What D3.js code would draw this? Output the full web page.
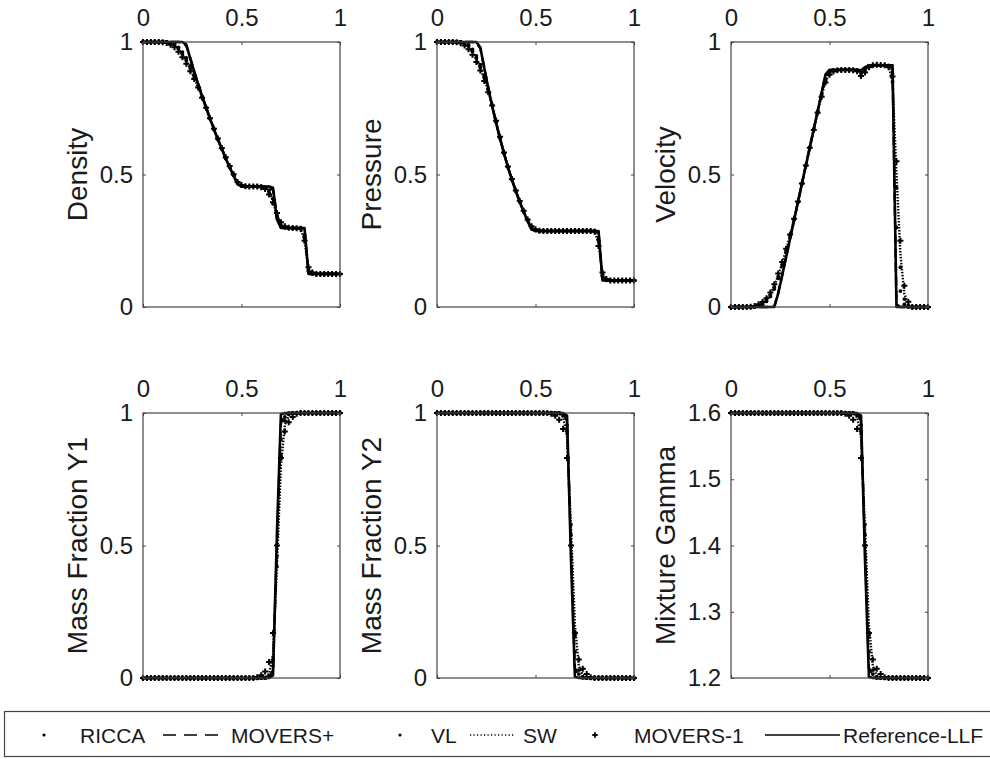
<!DOCTYPE html>
<html>
<head>
<meta charset="utf-8">
<script src="https://cdn.jsdelivr.net/npm/d3@7"></script>
<style>
  html, body { margin: 0; padding: 0; background: #fff; }
  svg { display: block; }
  text { font-family: "Liberation Sans", Arial, Helvetica, sans-serif; fill: #1a1a1a; }
</style>
</head>
<body>
<svg id="chart" width="990" height="759"></svg>
<script>
// ---------------- DATA ----------------
const xGrid = [0,0.02,0.04,0.06,0.08,0.10,0.12,0.14,0.16,0.18,
  0.20,0.22,0.24,0.26,0.28,0.30,0.32,0.34,0.36,0.38,
  0.40,0.42,0.44,0.46,0.48,0.50,0.52,0.54,0.56,0.58,
  0.60,0.62,0.64,0.66,0.68,0.70,0.72,0.74,0.76,0.78,
  0.80,0.82,0.84,0.86,0.88,0.90,0.92,0.94,0.96,0.98,
  1.00];

const seriesNames = ["RICCA", "MOVERS+", "VL", "SW", "MOVERS-1", "Reference-LLF"];
const panelTitles = ["Density", "Pressure", "Velocity", "Mass Fraction Y1", "Mass Fraction Y2", "Mixture Gamma"];
const xTicks = [0, 0.5, 1];
const xTickLabels = ["0", "0.5", "1"];
const yTicksUnit = [0, 0.5, 1];
const yTickLabelsUnit = ["0", "0.5", "1"];
const yTicksGamma = [1.2, 1.3, 1.4, 1.5, 1.6];
const yTickLabelsGamma = ["1.2", "1.3", "1.4", "1.5", "1.6"];

// Density
const density_RICCA = [1,1,1,1,1,1,1,0.997,0.99,0.975,
  0.955,0.93,0.9,0.868,0.832,0.793,0.752,0.711,0.671,0.633,
  0.596,0.56,0.527,0.497,0.47,0.458,0.455,0.455,0.455,0.455,
  0.455,0.45,0.43,0.39,0.34,0.31,0.3,0.298,0.298,0.298,
  0.298,0.26,0.14,0.126,0.125,0.125,0.125,0.125,0.125,0.125,
  0.125];
const density_MOVERSP = [1,1,1,1,1,1,1,1,1,1,
  0.998,0.985,0.94,0.889,0.842,0.797,0.754,0.712,0.672,0.634,
  0.597,0.561,0.528,0.496,0.466,0.456,0.455,0.455,0.455,0.455,
  0.455,0.455,0.455,0.44,0.35,0.302,0.298,0.298,0.298,0.298,
  0.297,0.292,0.13,0.125,0.125,0.125,0.125,0.125,0.125,0.125,
  0.125];
const density_VL = [1,1,1,1,1,1,1,0.998,0.993,0.98,
  0.962,0.94,0.91,0.875,0.836,0.795,0.753,0.712,0.672,0.634,
  0.597,0.561,0.528,0.497,0.468,0.457,0.455,0.455,0.455,0.455,
  0.455,0.452,0.44,0.41,0.345,0.305,0.299,0.298,0.298,0.298,
  0.298,0.27,0.135,0.125,0.125,0.125,0.125,0.125,0.125,0.125,
  0.125];
const density_SW = [1,1,1,1,1,1,0.999,0.995,0.987,0.972,
  0.952,0.927,0.898,0.866,0.83,0.792,0.752,0.711,0.671,0.633,
  0.596,0.561,0.528,0.498,0.47,0.459,0.456,0.455,0.455,0.455,
  0.454,0.448,0.435,0.4,0.34,0.31,0.3,0.298,0.298,0.298,
  0.297,0.25,0.145,0.128,0.125,0.125,0.125,0.125,0.125,0.125,
  0.125];
const density_MOVERS1 = [1,1,1,1,1,0.999,0.996,0.99,0.98,0.963,
  0.942,0.918,0.89,0.86,0.828,0.79,0.752,0.712,0.673,0.636,
  0.6,0.565,0.532,0.501,0.472,0.46,0.456,0.455,0.455,0.455,
  0.452,0.445,0.425,0.395,0.355,0.32,0.305,0.299,0.298,0.297,
  0.295,0.25,0.15,0.13,0.125,0.125,0.125,0.125,0.125,0.125,
  0.125];
const density_REF = [1,1,1,1,1,1,1,1,1,1,
  1,0.99,0.937,0.888,0.841,0.796,0.753,0.711,0.671,0.633,
  0.596,0.56,0.527,0.495,0.463,0.455,0.455,0.455,0.455,0.455,
  0.455,0.455,0.455,0.45,0.33,0.298,0.298,0.298,0.298,0.298,
  0.298,0.298,0.125,0.125,0.125,0.125,0.125,0.125,0.125,0.125,
  0.125];

// Pressure
const pressure_RICCA = [1,1,1,1,1,1,1,0.996,0.985,0.965,
  0.94,0.905,0.865,0.82,0.762,0.7,0.638,0.581,0.529,0.482,
  0.438,0.397,0.36,0.328,0.3,0.29,0.287,0.287,0.287,0.287,
  0.287,0.287,0.287,0.287,0.287,0.287,0.287,0.287,0.287,0.287,
  0.287,0.25,0.12,0.102,0.1,0.1,0.1,0.1,0.1,0.1,
  0.1];
const pressure_MOVERSP = [1,1,1,1,1,1,1,1,1,1,
  0.997,0.975,0.905,0.829,0.759,0.695,0.636,0.58,0.528,0.481,
  0.437,0.397,0.36,0.326,0.297,0.288,0.287,0.287,0.287,0.287,
  0.287,0.287,0.287,0.287,0.287,0.287,0.287,0.287,0.287,0.287,
  0.286,0.28,0.105,0.1,0.1,0.1,0.1,0.1,0.1,0.1,
  0.1];
const pressure_VL = [1,1,1,1,1,1,1,0.997,0.989,0.972,
  0.948,0.915,0.873,0.823,0.762,0.698,0.637,0.58,0.528,0.482,
  0.438,0.397,0.36,0.327,0.298,0.289,0.287,0.287,0.287,0.287,
  0.287,0.287,0.287,0.287,0.287,0.287,0.287,0.287,0.287,0.287,
  0.287,0.26,0.115,0.101,0.1,0.1,0.1,0.1,0.1,0.1,
  0.1];
const pressure_SW = [1,1,1,1,1,1,0.999,0.994,0.982,0.962,
  0.935,0.9,0.86,0.815,0.76,0.7,0.638,0.581,0.529,0.482,
  0.438,0.398,0.361,0.328,0.301,0.29,0.288,0.287,0.287,0.287,
  0.287,0.287,0.287,0.287,0.287,0.287,0.287,0.287,0.287,0.287,
  0.286,0.24,0.125,0.105,0.1,0.1,0.1,0.1,0.1,0.1,
  0.1];
const pressure_MOVERS1 = [1,1,1,1,1,0.999,0.995,0.987,0.973,0.952,
  0.925,0.892,0.853,0.81,0.76,0.703,0.642,0.583,0.53,0.483,
  0.44,0.4,0.363,0.33,0.305,0.293,0.288,0.287,0.287,0.287,
  0.287,0.287,0.287,0.287,0.287,0.287,0.287,0.287,0.287,0.287,
  0.285,0.23,0.13,0.106,0.1,0.1,0.1,0.1,0.1,0.1,
  0.1];
const pressure_REF = [1,1,1,1,1,1,1,1,1,1,
  1,0.979,0.901,0.827,0.758,0.694,0.635,0.58,0.528,0.481,
  0.437,0.396,0.359,0.324,0.292,0.287,0.287,0.287,0.287,0.287,
  0.287,0.287,0.287,0.287,0.287,0.287,0.287,0.287,0.287,0.287,
  0.287,0.287,0.1,0.1,0.1,0.1,0.1,0.1,0.1,0.1,
  0.1];

// Velocity
const velocity_RICCA = [0,0,0,0,0,0,0.002,0.006,0.012,0.025,
  0.045,0.075,0.115,0.16,0.212,0.268,0.33,0.396,0.465,0.534,
  0.602,0.67,0.737,0.8,0.855,0.883,0.893,0.895,0.895,0.895,
  0.895,0.895,0.893,0.88,0.89,0.91,0.912,0.912,0.912,0.912,
  0.91,0.85,0.45,0.15,0.03,0.005,0,0,0,0,
  0];
const velocity_MOVERSP = [0,0,0,0,0,0,0,0,0,0,
  0,0.003,0.055,0.121,0.19,0.259,0.328,0.397,0.466,0.535,
  0.603,0.671,0.739,0.806,0.87,0.892,0.895,0.895,0.895,0.895,
  0.895,0.895,0.894,0.89,0.9,0.91,0.912,0.912,0.912,0.912,
  0.911,0.9,0.01,0,0,0,0,0,0,0,
  0];
const velocity_VL = [0,0,0,0,0,0,0.001,0.004,0.01,0.021,
  0.04,0.068,0.108,0.155,0.208,0.265,0.329,0.396,0.465,0.534,
  0.602,0.67,0.738,0.803,0.86,0.886,0.894,0.895,0.895,0.895,
  0.895,0.895,0.894,0.888,0.898,0.911,0.912,0.912,0.912,0.912,
  0.912,0.88,0.3,0.06,0.01,0,0,0,0,0,
  0];
const velocity_SW = [0,0,0,0,0,0,0.002,0.007,0.015,0.03,
  0.05,0.08,0.12,0.165,0.215,0.27,0.331,0.397,0.466,0.535,
  0.602,0.67,0.736,0.798,0.852,0.88,0.892,0.895,0.895,0.895,
  0.895,0.895,0.893,0.885,0.895,0.91,0.912,0.912,0.912,0.912,
  0.91,0.85,0.5,0.2,0.05,0.01,0,0,0,0,
  0];
const velocity_MOVERS1 = [0,0,0,0,0,0.001,0.004,0.01,0.019,0.033,
  0.055,0.086,0.126,0.17,0.22,0.274,0.333,0.398,0.466,0.534,
  0.601,0.668,0.733,0.793,0.847,0.876,0.889,0.893,0.894,0.894,
  0.894,0.893,0.89,0.872,0.885,0.905,0.912,0.914,0.913,0.912,
  0.905,0.87,0.55,0.25,0.08,0.02,0,0,0,0,
  0];
const velocity_REF = [0,0,0,0,0,0,0,0,0,0,
  0,0,0.052,0.12,0.189,0.258,0.327,0.396,0.465,0.534,
  0.602,0.671,0.74,0.809,0.878,0.895,0.895,0.895,0.895,0.895,
  0.895,0.895,0.895,0.893,0.905,0.912,0.912,0.912,0.912,0.912,
  0.912,0.912,0,0,0,0,0,0,0,0,
  0];

// Mass fraction Y1
const y1_RICCA = [0,0,0,0,0,0,0,0,0,0,
  0,0,0,0,0,0,0,0,0,0,
  0,0,0,0,0,0,0,0,0,0,
  0,0,0.01,0.07,0.42,0.84,0.97,0.995,1,1,
  1,1,1,1,1,1,1,1,1,1,
  1];
const y1_MOVERSP = [0,0,0,0,0,0,0,0,0,0,
  0,0,0,0,0,0,0,0,0,0,
  0,0,0,0,0,0,0,0,0,0,
  0,0,0.002,0.03,0.5,0.96,0.998,1,1,1,
  1,1,1,1,1,1,1,1,1,1,
  1];
const y1_VL = [0,0,0,0,0,0,0,0,0,0,
  0,0,0,0,0,0,0,0,0,0,
  0,0,0,0,0,0,0,0,0,0,
  0,0,0.005,0.045,0.46,0.9,0.985,0.999,1,1,
  1,1,1,1,1,1,1,1,1,1,
  1];
const y1_SW = [0,0,0,0,0,0,0,0,0,0,
  0,0,0,0,0,0,0,0,0,0,
  0,0,0,0,0,0,0,0,0,0,
  0,0.002,0.015,0.09,0.43,0.8,0.955,0.99,0.998,1,
  1,1,1,1,1,1,1,1,1,1,
  1];
const y1_MOVERS1 = [0,0,0,0,0,0,0,0,0,0,
  0,0,0,0,0,0,0,0,0,0,
  0,0,0,0,0,0,0,0,0,0.003,
  0.01,0.025,0.06,0.17,0.5,0.83,0.93,0.965,0.985,0.997,
  1,1,1,1,1,1,1,1,1,1,
  1];
const y1_REF = [0,0,0,0,0,0,0,0,0,0,
  0,0,0,0,0,0,0,0,0,0,
  0,0,0,0,0,0,0,0,0,0,
  0,0,0,0.01,0.55,0.995,1,1,1,1,
  1,1,1,1,1,1,1,1,1,1,
  1];

// Mass fraction Y2
const y2_RICCA = [1,1,1,1,1,1,1,1,1,1,
  1,1,1,1,1,1,1,1,1,1,
  1,1,1,1,1,1,1,1,1,1,
  1,1,0.99,0.93,0.58,0.16,0.03,0.005,0,0,
  0,0,0,0,0,0,0,0,0,0,
  0];
const y2_MOVERSP = [1,1,1,1,1,1,1,1,1,1,
  1,1,1,1,1,1,1,1,1,1,
  1,1,1,1,1,1,1,1,1,1,
  1,1,0.998,0.97,0.5,0.04,0.002,0,0,0,
  0,0,0,0,0,0,0,0,0,0,
  0];
const y2_VL = [1,1,1,1,1,1,1,1,1,1,
  1,1,1,1,1,1,1,1,1,1,
  1,1,1,1,1,1,1,1,1,1,
  1,1,0.995,0.955,0.54,0.1,0.015,0.001,0,0,
  0,0,0,0,0,0,0,0,0,0,
  0];
const y2_SW = [1,1,1,1,1,1,1,1,1,1,
  1,1,1,1,1,1,1,1,1,1,
  1,1,1,1,1,1,1,1,1,1,
  1,0.998,0.985,0.91,0.57,0.2,0.045,0.01,0.002,0,
  0,0,0,0,0,0,0,0,0,0,
  0];
const y2_MOVERS1 = [1,1,1,1,1,1,1,1,1,1,
  1,1,1,1,1,1,1,1,1,1,
  1,1,1,1,1,1,1,1,1,0.997,
  0.99,0.975,0.94,0.83,0.5,0.17,0.07,0.035,0.015,0.003,
  0,0,0,0,0,0,0,0,0,0,
  0];
const y2_REF = [1,1,1,1,1,1,1,1,1,1,
  1,1,1,1,1,1,1,1,1,1,
  1,1,1,1,1,1,1,1,1,1,
  1,1,1,0.99,0.45,0.005,0,0,0,0,
  0,0,0,0,0,0,0,0,0,0,
  0];

// Mixture gamma
const gamma_RICCA = [1.6,1.6,1.6,1.6,1.6,1.6,1.6,1.6,1.6,1.6,
  1.6,1.6,1.6,1.6,1.6,1.6,1.6,1.6,1.6,1.6,
  1.6,1.6,1.6,1.6,1.6,1.6,1.6,1.6,1.6,1.6,
  1.6,1.6,1.596,1.572,1.432,1.264,1.212,1.202,1.2,1.2,
  1.2,1.2,1.2,1.2,1.2,1.2,1.2,1.2,1.2,1.2,
  1.2];
const gamma_MOVERSP = [1.6,1.6,1.6,1.6,1.6,1.6,1.6,1.6,1.6,1.6,
  1.6,1.6,1.6,1.6,1.6,1.6,1.6,1.6,1.6,1.6,
  1.6,1.6,1.6,1.6,1.6,1.6,1.6,1.6,1.6,1.6,
  1.6,1.6,1.599,1.588,1.4,1.216,1.201,1.2,1.2,1.2,
  1.2,1.2,1.2,1.2,1.2,1.2,1.2,1.2,1.2,1.2,
  1.2];
const gamma_VL = [1.6,1.6,1.6,1.6,1.6,1.6,1.6,1.6,1.6,1.6,
  1.6,1.6,1.6,1.6,1.6,1.6,1.6,1.6,1.6,1.6,
  1.6,1.6,1.6,1.6,1.6,1.6,1.6,1.6,1.6,1.6,
  1.6,1.6,1.598,1.582,1.416,1.24,1.206,1.2,1.2,1.2,
  1.2,1.2,1.2,1.2,1.2,1.2,1.2,1.2,1.2,1.2,
  1.2];
const gamma_SW = [1.6,1.6,1.6,1.6,1.6,1.6,1.6,1.6,1.6,1.6,
  1.6,1.6,1.6,1.6,1.6,1.6,1.6,1.6,1.6,1.6,
  1.6,1.6,1.6,1.6,1.6,1.6,1.6,1.6,1.6,1.6,
  1.6,1.599,1.594,1.564,1.428,1.28,1.218,1.204,1.201,1.2,
  1.2,1.2,1.2,1.2,1.2,1.2,1.2,1.2,1.2,1.2,
  1.2];
const gamma_MOVERS1 = [1.6,1.6,1.6,1.6,1.6,1.6,1.6,1.6,1.6,1.6,
  1.6,1.6,1.6,1.6,1.6,1.6,1.6,1.6,1.6,1.6,
  1.6,1.6,1.6,1.6,1.6,1.6,1.6,1.6,1.6,1.599,
  1.596,1.59,1.576,1.532,1.4,1.268,1.228,1.214,1.206,1.201,
  1.2,1.2,1.2,1.2,1.2,1.2,1.2,1.2,1.2,1.2,
  1.2];
const gamma_REF = [1.6,1.6,1.6,1.6,1.6,1.6,1.6,1.6,1.6,1.6,
  1.6,1.6,1.6,1.6,1.6,1.6,1.6,1.6,1.6,1.6,
  1.6,1.6,1.6,1.6,1.6,1.6,1.6,1.6,1.6,1.6,
  1.6,1.6,1.6,1.596,1.38,1.202,1.2,1.2,1.2,1.2,
  1.2,1.2,1.2,1.2,1.2,1.2,1.2,1.2,1.2,1.2,
  1.2];

// ---------------- ASSEMBLY ----------------
const panels = [
  { title: panelTitles[0], yDomain: [0, 1], yTicks: yTicksUnit, yLabels: yTickLabelsUnit,
    series: [density_RICCA, density_MOVERSP, density_VL, density_SW, density_MOVERS1, density_REF] },
  { title: panelTitles[1], yDomain: [0, 1], yTicks: yTicksUnit, yLabels: yTickLabelsUnit,
    series: [pressure_RICCA, pressure_MOVERSP, pressure_VL, pressure_SW, pressure_MOVERS1, pressure_REF] },
  { title: panelTitles[2], yDomain: [0, 1], yTicks: yTicksUnit, yLabels: yTickLabelsUnit,
    series: [velocity_RICCA, velocity_MOVERSP, velocity_VL, velocity_SW, velocity_MOVERS1, velocity_REF] },
  { title: panelTitles[3], yDomain: [0, 1], yTicks: yTicksUnit, yLabels: yTickLabelsUnit,
    series: [y1_RICCA, y1_MOVERSP, y1_VL, y1_SW, y1_MOVERS1, y1_REF] },
  { title: panelTitles[4], yDomain: [0, 1], yTicks: yTicksUnit, yLabels: yTickLabelsUnit,
    series: [y2_RICCA, y2_MOVERSP, y2_VL, y2_SW, y2_MOVERS1, y2_REF] },
  { title: panelTitles[5], yDomain: [1.2, 1.6], yTicks: yTicksGamma, yLabels: yTickLabelsGamma,
    series: [gamma_RICCA, gamma_MOVERSP, gamma_VL, gamma_SW, gamma_MOVERS1, gamma_REF] }
];

// styles: 0 dot, 1 dashed, 2 dot, 3 dotted, 4 plus, 5 solid
const styles = [
  { kind: "marker", shape: "dot" },
  { kind: "line", dash: "9,5" },
  { kind: "marker", shape: "dot" },
  { kind: "line", dash: "1.5,1.5" },
  { kind: "marker", shape: "plus" },
  { kind: "line", dash: null }
];

// ---------------- LAYOUT ----------------
const colLeft = [143, 437, 731];
const rowTop = [42, 413];
const pw = 197, ph = 265;
const axisColor = "#444";
const ink = "#000";

const svg = d3.select("#chart");

panels.forEach((p, idx) => {
  const left = colLeft[idx % 3], top = rowTop[Math.floor(idx / 3)];
  const g = svg.append("g").attr("transform", `translate(${left},${top})`);
  const x = d3.scaleLinear().domain([0, 1]).range([0, pw]);
  const y = d3.scaleLinear().domain(p.yDomain).range([ph, 0]);

  // data
  const line = d3.line().x((d, i) => x(xGrid[i])).y(d => y(d));
  const order = [5, 1, 3, 0, 2, 4];
  order.forEach(si => {
    const st = styles[si], vals = p.series[si];
    if (st.kind === "line") {
      g.append("path").datum(vals)
        .attr("d", line)
        .attr("fill", "none")
        .attr("stroke", ink)
        .attr("stroke-width", st.dash ? 2.4 : 2.6)
        .attr("stroke-linejoin", "round")
        .attr("stroke-dasharray", st.dash);
    } else if (st.shape === "dot") {
      g.append("g").selectAll("circle").data(vals).join("circle")
        .attr("cx", (d, i) => x(xGrid[i]))
        .attr("cy", d => y(d))
        .attr("r", 1.9)
        .attr("fill", ink);
    } else {
      g.append("g").selectAll("path").data(vals).join("path")
        .attr("transform", (d, i) => `translate(${x(xGrid[i])},${y(d)})`)
        .attr("d", d3.symbol(d3.symbolCross, 20))
        .attr("fill", ink);
    }
  });

  // box
  g.append("rect").attr("x", 0).attr("y", 0).attr("width", pw).attr("height", ph)
    .attr("fill", "none").attr("stroke", axisColor).attr("stroke-width", 1.2);

  // axes
  const axTop = d3.axisTop(x).tickValues(xTicks).tickFormat((d, i) => xTickLabels[i])
    .tickSizeInner(-3).tickSizeOuter(0).tickPadding(16);
  const axL = d3.axisLeft(y).tickValues(p.yTicks).tickFormat((d, i) => p.yLabels[i])
    .tickSizeInner(-3).tickSizeOuter(0).tickPadding(10);
  const axB = d3.axisBottom(x).tickValues(xTicks).tickFormat("").tickSizeInner(-3).tickSizeOuter(0);
  const axR = d3.axisRight(y).tickValues(p.yTicks).tickFormat("").tickSizeInner(-3).tickSizeOuter(0);

  [[axTop, 0, 0], [axL, 0, 0], [axB, 0, ph], [axR, pw, 0]].forEach(([a, tx, ty]) => {
    const ag = g.append("g").attr("transform", `translate(${tx},${ty})`).call(a);
    ag.select(".domain").remove();
    ag.selectAll("line").attr("stroke", axisColor);
    ag.selectAll("text").attr("font-size", 24).attr("font-family", "Liberation Sans, Arial, sans-serif").attr("fill", "#1a1a1a");
  });

  // title
  g.append("text")
    .attr("transform", `translate(-63,${ph / 2}) rotate(-90)`)
    .attr("text-anchor", "middle")
    .attr("dominant-baseline", "middle")
    .attr("font-size", 28)
    .text(p.title);
});

// ---------------- LEGEND ----------------
const lg = svg.append("g");
lg.append("rect").attr("x", 4.5).attr("y", 711.5).attr("width", 1000).attr("height", 45)
  .attr("fill", "#fff").attr("stroke", axisColor).attr("stroke-width", 1.2);
const legY = 735;
const legendLayout = [
  { sx: 44, tx: 80 },
  { sx1: 163, sx2: 222, tx: 231 },
  { sx: 400, tx: 431 },
  { sx1: 470, sx2: 515, tx: 523 },
  { sx: 595, tx: 634 },
  { sx1: 765, sx2: 840, tx: 843 }
];
seriesNames.forEach((name, i) => {
  const st = styles[i], L = legendLayout[i];
  if (st.kind === "line") {
    lg.append("line").attr("x1", L.sx1).attr("x2", L.sx2).attr("y1", legY).attr("y2", legY)
      .attr("stroke", ink).attr("stroke-width", 1.5)
      .attr("stroke-dasharray", st.dash === "9,5" ? "13,8" : st.dash === null ? null : "1.2,2.3");
  } else if (st.shape === "dot") {
    lg.append("circle").attr("cx", L.sx).attr("cy", legY).attr("r", 1.6).attr("fill", ink);
  } else {
    lg.append("path").attr("transform", `translate(${L.sx},${legY})`)
      .attr("d", d3.symbol(d3.symbolCross, 16)).attr("fill", ink);
  }
  lg.append("text").attr("x", L.tx).attr("y", legY).attr("dy", "0.36em")
    .attr("font-size", 21).text(name);
});
</script>
</body>
</html>
